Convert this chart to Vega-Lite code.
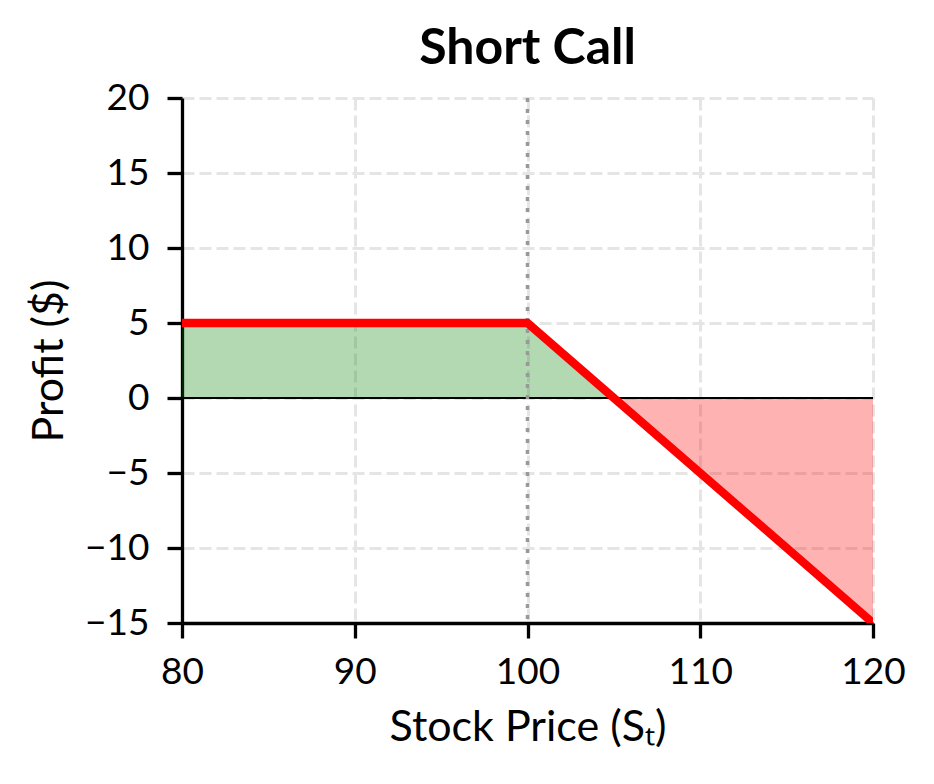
{
  "$schema": "https://vega.github.io/schema/vega-lite/v6.json",
  "width": 691,
  "height": 525,
  "autosize": {"type": "none"},
  "padding": {"left": 182, "top": 98, "right": 61, "bottom": 161},
  "background": "white",
  "config": {
    "view": {"stroke": null},
    "font": "Lato",
    "axis": {
      "labelFont": "Lato",
      "titleFont": "Lato",
      "labelFontSize": 37,
      "titleFontSize": 43,
      "titleFontWeight": "normal",
      "labelColor": "black",
      "titleColor": "black",
      "labelFlush": false,
      "labelOverlap": false,
      "domainColor": "black",
      "domainWidth": 3.3,
      "tickColor": "black",
      "tickWidth": 3.3,
      "tickSize": 15,
      "gridColor": "#e5e5e5",
      "gridWidth": 3,
      "gridDash": [12, 5]
    }
  },
  "title": {
    "text": "Short Call",
    "font": "Lato",
    "fontSize": 50,
    "fontWeight": "bold",
    "color": "black",
    "anchor": "middle",
    "frame": "group",
    "baseline": "alphabetic",
    "offset": 31,
    "dy": 66
  },
  "datasets": {
    "fill": [
      {"price": 80, "profit": 5, "zone": "gain"},
      {"price": 100, "profit": 5, "zone": "gain"},
      {"price": 105, "profit": 0, "zone": "gain"},
      {"price": 105, "profit": 0, "zone": "loss"},
      {"price": 120, "profit": -15, "zone": "loss"}
    ],
    "payoff": [
      {"price": 80, "profit": 5},
      {"price": 100, "profit": 5},
      {"price": 120, "profit": -15}
    ]
  },
  "layer": [
    {
      "data": {"name": "fill"},
      "mark": {"type": "area", "opacity": 0.3, "clip": true},
      "encoding": {
        "x": {
          "field": "price", "type": "quantitative",
          "scale": {"domain": [80, 120], "nice": false, "zero": false},
          "axis": {
            "values": [80, 90, 100, 110, 120],
            "title": "Stock Price (Sₜ)",
            "labelPadding": 16,
            "titleBaseline": "alphabetic",
            "titleX": 345.5,
            "titleY": 117,
            "grid": true
          }
        },
        "y": {
          "field": "profit", "type": "quantitative",
          "scale": {"domain": [-15, 20], "nice": false, "zero": false},
          "axis": {
            "values": [-15, -10, -5, 0, 5, 10, 15, 20],
            "title": "Profit ($)",
            "labelPadding": 18,
            "titleBaseline": "alphabetic",
            "titleX": -120,
            "titleY": 262.5,
            "grid": true
          }
        },
        "y2": {"datum": 0},
        "color": {
          "field": "zone", "type": "nominal",
          "scale": {"domain": ["gain", "loss"], "range": ["#008000", "#ff0000"]},
          "legend": null
        },
        "detail": {"field": "zone"}
      }
    },
    {
      "data": {"values": [{}]},
      "mark": {"type": "rule", "color": "black", "strokeWidth": 2},
      "encoding": {"y": {"datum": 0}}
    },
    {
      "data": {"values": [{}]},
      "mark": {"type": "rule", "color": "#999999", "strokeWidth": 3.5, "strokeDash": [4, 7]},
      "encoding": {"x": {"datum": 100}}
    },
    {
      "data": {"name": "payoff"},
      "mark": {"type": "line", "color": "#ff0000", "strokeWidth": 8.3, "clip": true},
      "encoding": {
        "x": {"field": "price", "type": "quantitative"},
        "y": {"field": "profit", "type": "quantitative"}
      }
    }
  ]
}
